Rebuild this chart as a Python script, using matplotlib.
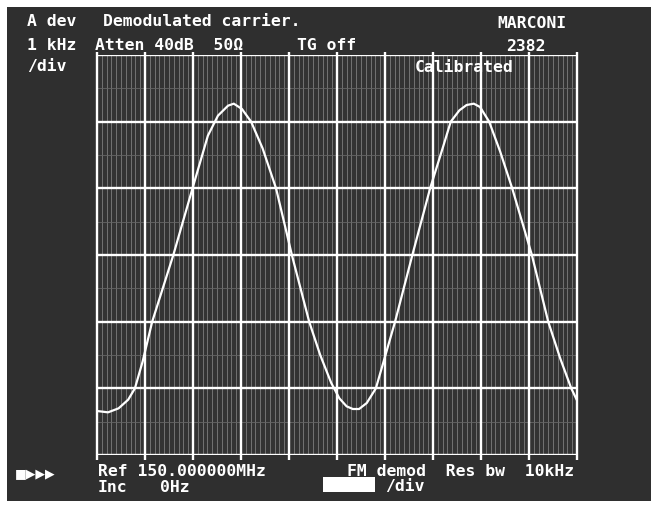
import numpy as np
import matplotlib.pyplot as plt
from matplotlib.patches import Rectangle

W, H = 657, 508

# trace, in graticule divisions (10 across, 6 up)
sweep_div = [0.0, 0.23, 0.45, 0.65, 0.79, 0.95, 1.15, 1.59, 1.99, 2.31, 2.52,
             2.73, 2.85, 3.02, 3.21, 3.45, 3.73, 4.06, 4.42, 4.65, 4.88, 5.05,
             5.2, 5.33, 5.46, 5.62, 5.81, 5.97, 6.21, 6.57, 6.94, 7.2, 7.37,
             7.55, 7.7, 7.85, 7.98, 8.17, 8.4, 8.65, 9.06, 9.4, 9.65, 9.88,
             10.0]
level_div = [0.66, 0.64, 0.7, 0.83, 1.0, 1.4, 2.0, 3.0, 4.0, 4.79, 5.09,
             5.24, 5.27, 5.19, 5.0, 4.6, 4.0, 3.0, 2.0, 1.5, 1.08, 0.85,
             0.73, 0.69, 0.69, 0.78, 1.0, 1.4, 2.0, 3.0, 4.0, 4.6, 5.0,
             5.17, 5.25, 5.27, 5.22, 5.0, 4.55, 4.0, 3.0, 2.0, 1.45, 1.0,
             0.82]

# screen annotations: (text, x px, y px)
top_texts = [('A dev', 27, 22), ('Demodulated carrier.', 103, 22),
             ('MARCONI', 497, 24), ('1 kHz', 27, 45),
             ('Atten 40dB  50Ω', 95, 45), ('TG off', 297, 45),
             ('2382', 506, 46), ('/div', 27, 67), ('Calibrated', 415, 67)]
bottom_texts = [('Ref 150.000000MHz', 98, 472), ('Inc', 98, 487),
                ('0Hz', 160, 487), ('FM demod  Res bw  10kHz', 347, 472),
                ('/div', 385, 487)]

fig = plt.figure(figsize=(W / 100, H / 100), dpi=100)
fig.patch.set_facecolor('white')
fig.patches.append(Rectangle((7 / W, 7 / H), (651 - 7) / W, (501 - 7) / H,
                             transform=fig.transFigure, facecolor='#2f2f2f',
                             edgecolor='none', zorder=-10))

ax = fig.add_axes([97 / W, 53 / H, 480 / W, 400 / H])
ax.set_facecolor('#333333')
ax.set_xlim(0, 10)
ax.set_ylim(0, 6)
for s in ax.spines.values():
    s.set_visible(False)
ax.set_xticks([])
ax.set_yticks([])

# graticule
ax.vlines(np.arange(0, 10.01, 0.1), 0, 6, color='#7c7c7c', lw=0.6)
ax.hlines(np.arange(0.5, 6, 1), 0, 10, color='#666666', lw=0.6)
ax.vlines(range(11), -0.08, 6.05, color='white', lw=1.7, clip_on=False)
ax.hlines(range(7), 0, 10, color='white', lw=1.7)

ax.plot(sweep_div, level_div, color='white', lw=1.6, zorder=5,
        solid_joinstyle='round')

font = dict(family='DejaVu Sans Mono', fontweight='bold', fontsize=11.8,
            color='white', va='center', ha='left')
for txt, x, y in top_texts + bottom_texts:
    fig.text(x / W, 1 - y / H, txt, **font)

fig.text(15 / W, 1 - 475 / H, '■▶▶▶', family='DejaVu Sans', fontweight='bold',
         fontsize=9, color='white', va='center', ha='left')
fig.patches.append(Rectangle((323 / W, 1 - 492 / H), 52 / W, 15 / H,
                             transform=fig.transFigure, facecolor='white',
                             edgecolor='none'))

plt.savefig('out.png', dpi=100, facecolor=fig.get_facecolor())
